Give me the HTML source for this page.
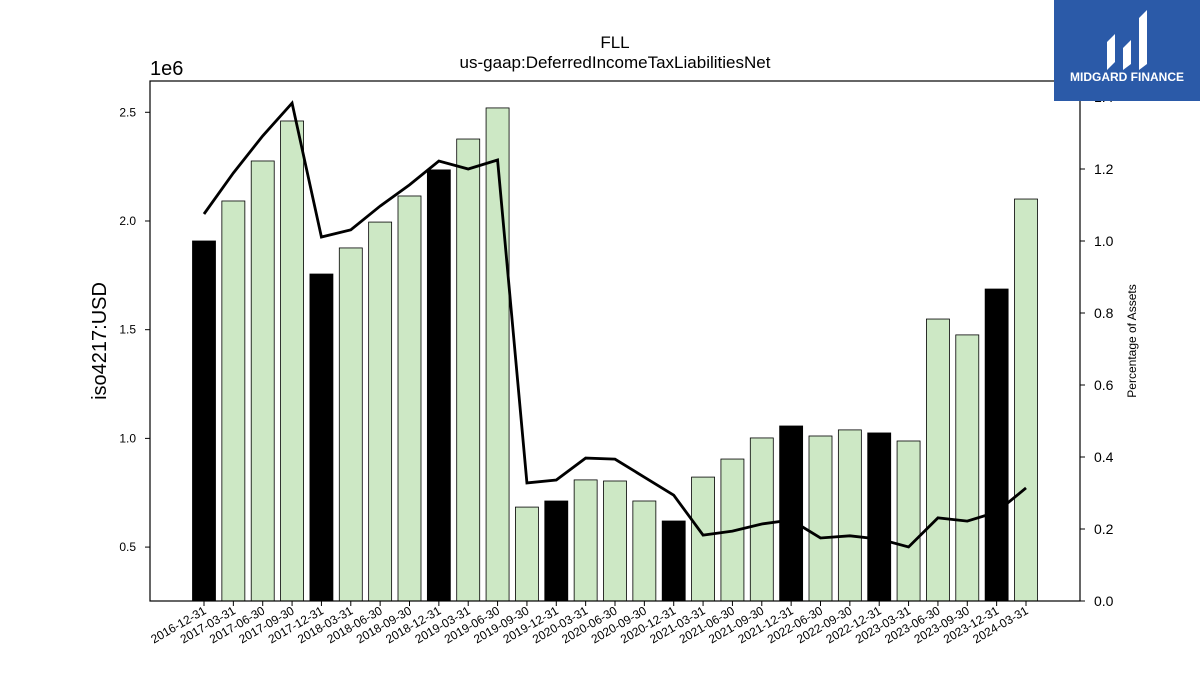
<!DOCTYPE html>
<html><head><meta charset="utf-8"><style>
body{margin:0;background:#fff;}
svg{display:block;font-family:"Liberation Sans","DejaVu Sans",sans-serif;}
</style></head><body>
<svg id="chart" width="1200" height="675" viewBox="0 0 1200 675" xmlns="http://www.w3.org/2000/svg">
<rect width="1200" height="675" fill="#fff"/>
<text x="615" y="48" text-anchor="middle" font-size="17">FLL</text>
<text x="615" y="68" text-anchor="middle" font-size="17">us-gaap:DeferredIncomeTaxLiabilitiesNet</text>
<text x="150" y="75" font-size="20">1e6</text>
<text transform="translate(106,341) rotate(-90)" text-anchor="middle" font-size="20">iso4217:USD</text>
<text transform="translate(1136,341) rotate(-90)" text-anchor="middle" font-size="12">Percentage of Assets</text>
<g id="bars"></g><g id="line"></g><g id="axes"></g>
<rect x="150" y="81" width="930" height="520" fill="none" stroke="#000" stroke-width="1.2"/>
<g>
<rect x="1054" y="0" width="146" height="101" fill="#2b5aa8"/>
<path d="M1107 70 L1107 42 L1115 34 L1115 62 Z M1123 70 L1123 48 L1131 40 L1131 64 Z M1139 70 L1139 18 L1147 10 L1147 64 Z" fill="#fff"/>
<text x="1127" y="81" text-anchor="middle" font-size="12" font-weight="bold" fill="#fff">MIDGARD FINANCE</text>
</g>
</svg>
<script>
const categories=["2016-12-31","2017-03-31","2017-06-30","2017-09-30","2017-12-31","2018-03-31","2018-06-30","2018-09-30","2018-12-31","2019-03-31","2019-06-30","2019-09-30","2019-12-31","2020-03-31","2020-06-30","2020-09-30","2020-12-31","2021-03-31","2021-06-30","2021-09-30","2021-12-31","2022-06-30","2022-09-30","2022-12-31","2023-03-31","2023-06-30","2023-09-30","2023-12-31","2024-03-31"];
const values=[1.908,2.092,2.276,2.46,1.756,1.876,1.995,2.115,2.235,2.377,2.52,0.684,0.712,0.809,0.804,0.712,0.62,0.822,0.905,1.002,1.057,1.011,1.039,1.025,0.988,1.549,1.476,1.687,2.101];
const pctAssets=[1.075,1.189,1.292,1.383,1.011,1.031,1.097,1.156,1.222,1.2,1.225,0.328,0.336,0.397,0.394,0.344,0.294,0.183,0.194,0.214,0.225,0.175,0.181,0.172,0.15,0.231,0.222,0.247,0.314];
const leftTicks=[0.5,1.0,1.5,2.0,2.5];
const rightTicks=[0.0,0.2,0.4,0.6,0.8,1.0,1.2,1.4];
const NS="http://www.w3.org/2000/svg";
const y=v=>601-(v-0.252)*217.4;
const y2=v=>601-v*360;
const x=i=>204+i*(1026-204)/28;
function mk(tag,attrs,parent){const e=document.createElementNS(NS,tag);for(const k in attrs)e.setAttribute(k,attrs[k]);parent.appendChild(e);return e;}
const bars=document.getElementById('bars'),line=document.getElementById('line'),axes=document.getElementById('axes');
values.forEach((v,i)=>{
 const q4=categories[i].endsWith('12-31');
 const r=mk('rect',{x:x(i)-11.5,y:y(v),width:23,height:601-y(v),fill:q4?'#000':'#cde8c5',stroke:'#000','stroke-width':0.8},bars);
 
 
 mk('line',{x1:x(i),x2:x(i),y1:601,y2:606,stroke:'#000'},axes);
 const t=mk('text',{transform:`translate(${x(i)+3},${613}) rotate(-30)`,'text-anchor':'end','font-size':12},axes);
 t.textContent=categories[i];
 
 
});
const p=mk('polyline',{points:pctAssets.map((v,i)=>x(i)+','+y2(v)).join(' '),fill:'none',stroke:'#000','stroke-width':2.8},line);


leftTicks.forEach(v=>{
 mk('line',{x1:145,x2:150,y1:y(v),y2:y(v),stroke:'#000'},axes);
 const t=mk('text',{x:136,y:y(v)+4,'text-anchor':'end','font-size':12},axes);
 t.textContent=v.toFixed(1);
 
 
});
rightTicks.forEach(v=>{
 mk('line',{x1:1080,x2:1085,y1:y2(v),y2:y2(v),stroke:'#000'},axes);
 const t=mk('text',{x:1094,y:y2(v)+5,'font-size':14},axes);
 t.textContent=v.toFixed(1);
 
 
});
</script>
</body></html>
